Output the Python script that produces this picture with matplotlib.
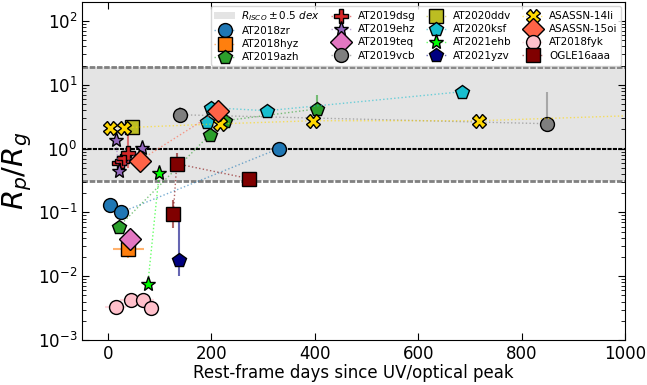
import numpy as np
import matplotlib
matplotlib.use('Agg')
import matplotlib.pyplot as plt
from matplotlib.colors import to_rgba

# rest-frame days since peak and R_p/R_g for each event
zr_t = [4, 25, 330]
zr_r = [0.13, 0.10, 1.0]
hyz_t = [39]
hyz_r = [0.027]
azh_t = [21, 197, 226, 404]
azh_r = [0.060, 1.66, 2.74, 4.2]
dsg_t = [21, 27, 31, 39]
dsg_r = [0.60, 0.65, 0.72, 0.84]
ehz_t = [15, 21, 66]
ehz_r = [1.38, 0.45, 1.04]
teq_t = [42]
teq_r = [0.038]
vcb_t = [139, 850]
vcb_r = [3.4, 2.46]
ddv_t = [46]
ddv_r = [2.2]
ksf_t = [191, 199, 307, 684]
ksf_r = [2.63, 4.4, 3.93, 7.8]
ehb_t = [77, 99]
ehb_r = [0.0075, 0.41]
yzv_t = [137]
yzv_r = [0.018]
li14_t = [4, 30, 216, 396, 717, 1200]
li14_r = [2.13, 2.13, 2.45, 2.74, 2.74, 3.7]
oi15_t = [61, 213]
oi15_r = [0.65, 3.93]
fyk_t = [15, 44, 68, 83]
fyk_r = [0.0033, 0.0042, 0.0043, 0.0032]
ogle_t = [126, 133, 272]
ogle_r = [0.093, 0.58, 0.34]

# error bars (lower, upper) where they are shown
zr_yerr = [[0, 0, 0], [0, 0, 0.29]]
hyz_xerr = [30]
hyz_yerr = [[0.008], [0]]
azh_yerr = [[0, 0, 0, 0], [0, 0, 0, 2.7]]
dsg_yerr = [[0, 0, 0, 0.34], [0, 0, 0, 1.6]]
vcb_yerr = [[0, 0], [1.1, 5.3]]
yzv_yerr = [[0.008], [0.097]]
fyk_xerr = [20, 20, 20, 12]
ogle_yerr = [[0.037, 0.1, 0], [0.062, 0.29, 0]]

r_isco_lo = 10**-0.5
r_isco_hi = 6 * 10**0.5

events = [
    ('AT2018zr', zr_t, zr_r, 'o', 'C0', None, zr_yerr),
    ('AT2018hyz', hyz_t, hyz_r, 's', 'C1', hyz_xerr, hyz_yerr),
    ('AT2019azh', azh_t, azh_r, 'p', 'C2', None, azh_yerr),
    ('AT2019dsg', dsg_t, dsg_r, 'P', 'C3', None, dsg_yerr),
    ('AT2019ehz', ehz_t, ehz_r, '*', 'C4', None, None),
    ('AT2019teq', teq_t, teq_r, 'D', 'C6', None, None),
    ('AT2019vcb', vcb_t, vcb_r, 'o', 'C7', None, vcb_yerr),
    ('AT2020ddv', ddv_t, ddv_r, 's', 'C8', None, None),
    ('AT2020ksf', ksf_t, ksf_r, 'p', 'C9', None, None),
    ('AT2021ehb', ehb_t, ehb_r, '*', 'lime', None, None),
    ('AT2021yzv', yzv_t, yzv_r, 'p', 'navy', None, yzv_yerr),
    ('ASASSN-14li', li14_t, li14_r, 'X', 'gold', None, None),
    ('ASASSN-15oi', oi15_t, oi15_r, 'D', 'tomato', None, None),
    ('AT2018fyk', fyk_t, fyk_r, 'o', 'pink', fyk_xerr, None),
    ('OGLE16aaa', ogle_t, ogle_r, 's', 'maroon', None, ogle_yerr),
]

fig, ax = plt.subplots(figsize=(6.47, 3.85), dpi=100)
fig.subplots_adjust(left=0.127, right=0.966, bottom=0.117, top=0.995)

ax.axhspan(r_isco_lo, r_isco_hi, color='lightgrey', alpha=0.6, lw=0,
           label=r'$R_{ISCO} \pm 0.5\ dex$', zorder=0)
ax.axhline(r_isco_lo, color='grey', ls='--', lw=2, dashes=(2, 0.6), zorder=1)
ax.axhline(r_isco_hi, color='grey', ls='--', lw=2, dashes=(2, 0.6), zorder=1)
ax.axhline(1.0, color='k', ls='--', lw=1.5, dashes=(2, 0.6), zorder=1)

for name, t, r, m, c, xe, ye in events:
    if xe is not None or ye is not None:
        ax.errorbar(t, r, xerr=xe, yerr=ye, fmt='none', ecolor=c, alpha=0.6,
                    elinewidth=1.5, zorder=2)
    ms = 11 if m in ('*', 'D') else 10
    ax.plot(t, r, ls=':', lw=1, color=to_rgba(c, 0.6), marker=m, mfc=c,
            mec='k', mew=1, ms=ms, label=name, zorder=3)

ax.set_yscale('log')
ax.set_xlim(-50, 1000)
ax.set_ylim(1e-3, 2e2)
ax.set_xlabel('Rest-frame days since UV/optical peak', fontsize=12, labelpad=1)
ax.set_ylabel(r'$R_p/R_g$', fontsize=21, labelpad=3)
ax.tick_params(which='both', direction='in', top=True, right=True, labelsize=12)
ax.tick_params(which='major', length=5)
ax.tick_params(which='minor', length=3)

ax.legend(loc='upper right', ncol=4, fontsize=7.5, labelspacing=0.3,
          columnspacing=1.0, handletextpad=0.6, borderpad=0.3,
          borderaxespad=0.4)

plt.savefig('out.png', dpi=100)
